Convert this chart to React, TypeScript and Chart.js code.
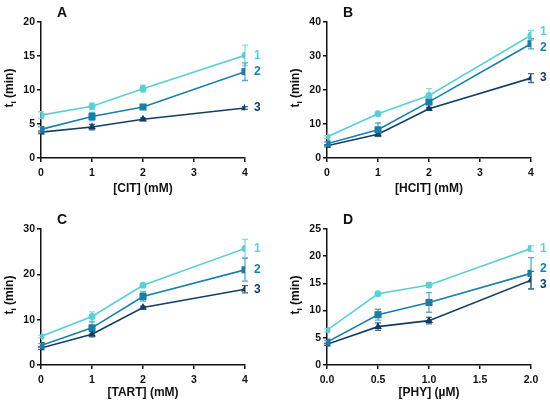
import { useEffect, useRef } from 'react';
import { Chart, registerables } from 'chart.js';

Chart.register(...registerables);

const FONT = '"Liberation Sans", Arial, sans-serif';

const seriesNames = ['1', '2', '3'];
const seriesColors = ['#5ccfd6', '#1a7fa6', '#123e66'];
const errorColors = ['#8adbe1', '#5fa8c5', '#46698a'];
const pointStyles = ['circle', 'rect', 'triangle'];
const pointRadii = [3.5, 5, 4.5];

// A: citrate
const citDose = [0, 1, 2, 4];
const citMean1 = [6.3, 7.6, 10.2, 15.1];
const citMean2 = [4.2, 6.1, 7.5, 12.7];
const citMean3 = [3.8, 4.55, 5.7, 7.35];
const citErr1 = [0.5, 0.5, 0.5, 1.5];
const citErr2 = [0.4, 0.6, 0.3, 1.3];
const citErr3 = [0.2, 0.4, 0.2, 0.2];

// B: hydroxycitrate
const hcitDose = [0, 1, 2, 4];
const hcitMean1 = [6.2, 13.0, 18.4, 36.1];
const hcitMean2 = [4.2, 8.3, 16.5, 33.6];
const hcitMean3 = [3.6, 7.0, 14.5, 23.5];
const hcitErr1 = [0.4, 0.4, 2.0, 1.4];
const hcitErr2 = [0.5, 2.0, 0.8, 1.5];
const hcitErr3 = [0.3, 0.5, 0.4, 1.3];

// C: tartrate
const tartDose = [0, 1, 2, 4];
const tartMean1 = [6.3, 10.7, 17.6, 25.7];
const tartMean2 = [4.3, 8.2, 15.1, 21.0];
const tartMean3 = [3.75, 6.8, 12.7, 16.7];
const tartErr1 = [0.3, 1.0, 0.3, 2.0];
const tartErr2 = [0.4, 1.3, 1.0, 2.5];
const tartErr3 = [0.3, 0.6, 0.3, 0.8];

// D: phytate
const phyDose = [0, 0.5, 1, 2];
const phyMean1 = [6.4, 13.1, 14.7, 21.4];
const phyMean2 = [4.2, 9.25, 11.5, 16.85];
const phyMean3 = [3.8, 7.05, 8.15, 15.6];
const phyErr1 = [0.3, 0.3, 0.4, 0.5];
const phyErr2 = [0.3, 1.0, 1.8, 2.9];
const phyErr3 = [0.2, 0.7, 0.6, 1.6];

interface PanelProps {
  letter: string;
  xTitle: string;
  dose: number[];
  means: number[][];
  errors: number[][];
  xMax: number;
  xStep: number;
  xDecimals: number;
  yMax: number;
  yStep: number;
  left: number;
  top: number;
  width: number;
  height: number;
  yAxisWidth: number;
  xAxisHeight: number;
  padTop: number;
  padRight: number;
}

const errorBarPlugin = {
  id: 'errorBars',
  beforeDatasetsDraw(chart: any, _args: any, opts: any) {
    const { ctx } = chart;
    const xs = chart.scales.x;
    const ys = chart.scales.y;
    ctx.save();
    ctx.lineWidth = 1.3;
    chart.data.datasets.forEach((ds: any, i: number) => {
      const errs: number[] = opts.errors[i];
      ctx.strokeStyle = errorColors[i];
      ds.data.forEach((p: any, j: number) => {
        const px = xs.getPixelForValue(p.x);
        const top = ys.getPixelForValue(p.y + errs[j]);
        const bot = ys.getPixelForValue(p.y - errs[j]);
        ctx.beginPath();
        ctx.moveTo(px, top);
        ctx.lineTo(px, bot);
        ctx.moveTo(px - 3, top);
        ctx.lineTo(px + 3, top);
        ctx.moveTo(px - 3, bot);
        ctx.lineTo(px + 3, bot);
        ctx.stroke();
      });
    });
    ctx.restore();
  },
};

const annotationPlugin = {
  id: 'panelText',
  afterDraw(chart: any, _args: any, opts: any) {
    const { ctx, chartArea } = chart;
    const ys = chart.scales.y;
    const xs = chart.scales.x;
    ctx.save();

    // panel letter
    ctx.fillStyle = '#111';
    ctx.font = `bold 14px ${FONT}`;
    ctx.textAlign = 'left';
    ctx.textBaseline = 'middle';
    ctx.fillText(opts.letter, chartArea.left + 16, chartArea.top - 9);

    // y title: t with subscript i
    const cx = chartArea.left - 31;
    const cy = (chartArea.top + chartArea.bottom) / 2 - 2;
    ctx.translate(cx, cy);
    ctx.rotate(-Math.PI / 2);
    ctx.textBaseline = 'middle';
    const big = `bold 12px ${FONT}`;
    const small = `bold 8px ${FONT}`;
    ctx.font = big;
    const wT = ctx.measureText('t').width;
    const wRest = ctx.measureText(' (min)').width;
    ctx.font = small;
    const wI = ctx.measureText('i').width;
    let x0 = -(wT + wI + wRest) / 2;
    ctx.font = big;
    ctx.fillText('t', x0, 0);
    x0 += wT;
    ctx.font = small;
    ctx.fillText('i', x0, 3.5);
    x0 += wI;
    ctx.font = big;
    ctx.fillText(' (min)', x0, 0);
    ctx.setTransform(1, 0, 0, 1, 0, 0);
    ctx.restore();

    // series labels next to the last point, pushed apart when crowded
    ctx.save();
    const items = chart.data.datasets.map((ds: any, i: number) => {
      const last = ds.data[ds.data.length - 1];
      return { i, x: xs.getPixelForValue(last.x) + 9, y: ys.getPixelForValue(last.y) };
    });
    items.sort((a: any, b: any) => a.y - b.y);
    const gap = 16;
    for (let k = 0; k < 10; k++) {
      for (let n = 1; n < items.length; n++) {
        const d = items[n].y - items[n - 1].y;
        if (d < gap) {
          const s = (gap - d) / 2;
          items[n - 1].y -= s;
          items[n].y += s;
        }
      }
    }
    ctx.font = `bold 12px ${FONT}`;
    ctx.textAlign = 'left';
    ctx.textBaseline = 'middle';
    items.forEach((it: any) => {
      ctx.fillStyle = seriesColors[it.i];
      ctx.fillText(seriesNames[it.i], it.x, it.y);
    });
    ctx.restore();
  },
};

function Panel(props: PanelProps) {
  const canvasRef = useRef<HTMLCanvasElement>(null);

  useEffect(() => {
    if (!canvasRef.current) return;
    const ctx = canvasRef.current.getContext('2d');
    if (!ctx) return;

    const axisColor = '#111';
    const chart = new Chart(ctx, {
      type: 'line',
      data: {
        datasets: props.means.map((m, i) => ({
          label: seriesNames[i],
          data: m.map((v, j) => ({ x: props.dose[j], y: v })),
          borderColor: seriesColors[i],
          backgroundColor: seriesColors[i],
          borderWidth: 1.6,
          pointStyle: pointStyles[i] as any,
          pointRadius: pointRadii[i],
          pointBorderWidth: 0,
          tension: 0,
        })),
      },
      options: {
        responsive: false,
        animation: false,
        layout: { padding: { top: props.padTop, right: props.padRight, left: 0, bottom: 0 } },
        scales: {
          x: {
            type: 'linear',
            min: 0,
            max: props.xMax,
            afterFit: (s: any) => {
              s.height = props.xAxisHeight;
            },
            ticks: {
              stepSize: props.xStep,
              color: axisColor,
              font: { family: FONT, size: 10.5, weight: 'bold' },
              padding: 5,
              maxRotation: 0,
              callback: (v: any) => Number(v).toFixed(props.xDecimals),
            },
            grid: { drawOnChartArea: false, drawTicks: true, tickLength: 4, color: axisColor, lineWidth: 1.5 },
            border: { display: true, color: axisColor, width: 1.5 },
            title: {
              display: true,
              text: props.xTitle,
              color: axisColor,
              font: { family: FONT, size: 12, weight: 'bold' },
              padding: { top: 4, bottom: 9 },
            },
          },
          y: {
            type: 'linear',
            min: 0,
            max: props.yMax,
            afterFit: (s: any) => {
              s.width = props.yAxisWidth;
            },
            ticks: {
              stepSize: props.yStep,
              color: axisColor,
              font: { family: FONT, size: 10.5, weight: 'bold' },
              padding: 2,
            },
            grid: { drawOnChartArea: false, drawTicks: true, tickLength: 4, color: axisColor, lineWidth: 1.5 },
            border: { display: true, color: axisColor, width: 1.5 },
          },
        },
        plugins: {
          legend: { display: false },
          tooltip: { enabled: false },
          errorBars: { errors: props.errors },
          panelText: { letter: props.letter },
        } as any,
      },
      plugins: [errorBarPlugin, annotationPlugin],
    });

    return () => {
      chart.destroy();
    };
  }, [props]);

  return (
    <div style={{ position: 'absolute', left: props.left, top: props.top, width: props.width, height: props.height }}>
      <canvas ref={canvasRef} width={props.width} height={props.height} />
    </div>
  );
}

export default function App() {
  return (
    <div style={{ position: 'fixed', left: 0, top: 0, width: 550, height: 409, background: '#fff' }}>
      <Panel
        letter="A" xTitle="[CIT] (mM)" dose={citDose}
        means={[citMean1, citMean2, citMean3]} errors={[citErr1, citErr2, citErr3]}
        xMax={4} xStep={1} xDecimals={0} yMax={20} yStep={5}
        left={0} top={0} width={275} height={205}
        yAxisWidth={41} xAxisHeight={47} padTop={22} padRight={30}
      />
      <Panel
        letter="B" xTitle="[HCIT] (mM)" dose={hcitDose}
        means={[hcitMean1, hcitMean2, hcitMean3]} errors={[hcitErr1, hcitErr2, hcitErr3]}
        xMax={4} xStep={1} xDecimals={0} yMax={40} yStep={10}
        left={275} top={0} width={275} height={205}
        yAxisWidth={52} xAxisHeight={47} padTop={22} padRight={19}
      />
      <Panel
        letter="C" xTitle="[TART] (mM)" dose={tartDose}
        means={[tartMean1, tartMean2, tartMean3]} errors={[tartErr1, tartErr2, tartErr3]}
        xMax={4} xStep={1} xDecimals={0} yMax={30} yStep={10}
        left={0} top={205} width={275} height={204}
        yAxisWidth={41} xAxisHeight={44} padTop={24} padRight={30}
      />
      <Panel
        letter="D" xTitle="[PHY] (µM)" dose={phyDose}
        means={[phyMean1, phyMean2, phyMean3]} errors={[phyErr1, phyErr2, phyErr3]}
        xMax={2} xStep={0.5} xDecimals={1} yMax={25} yStep={5}
        left={275} top={205} width={275} height={204}
        yAxisWidth={52} xAxisHeight={44} padTop={24} padRight={19}
      />
    </div>
  );
}
